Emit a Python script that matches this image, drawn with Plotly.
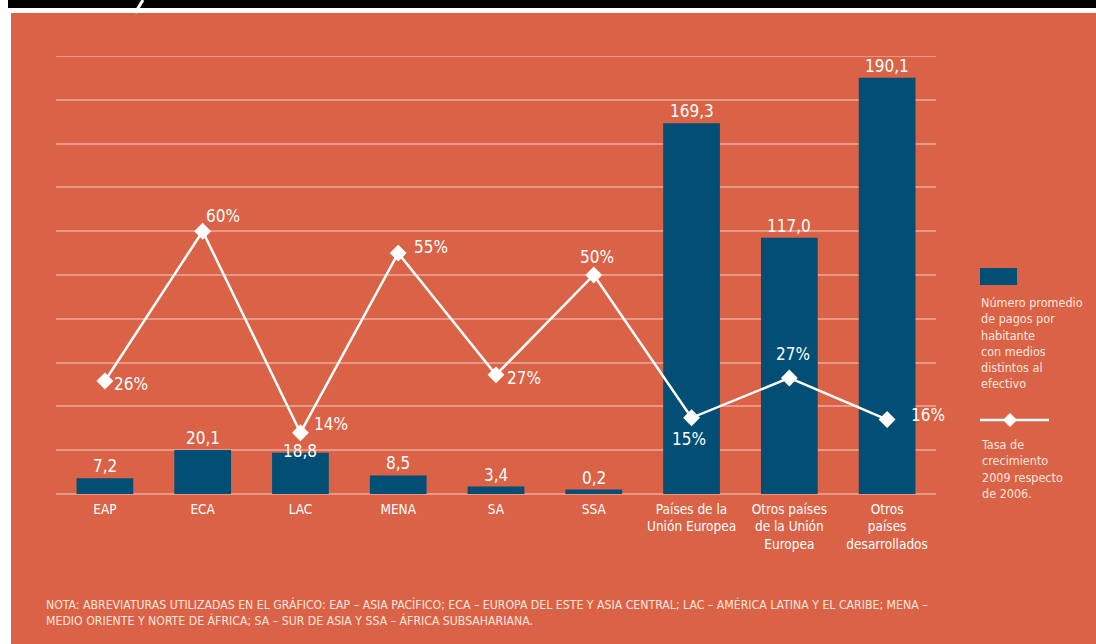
import plotly.graph_objects as go

categories = ["EAP", "ECA", "LAC", "MENA", "SA", "SSA",
              "Países de la<br>Unión Europea",
              "Otros países<br>de la Unión<br>Europea",
              "Otros<br>países<br>desarrollados"]
# bar heights as drawn in the picture (SSA bar is drawn at ~2 although labelled 0,2)
pagos = [7.2, 20.1, 18.8, 8.5, 3.4, 2.0, 169.3, 117.0, 190.1]
pagos_labels = ["7,2", "20,1", "18,8", "8,5", "3,4", "0,2", "169,3", "117,0", "190,1"]
# growth points as drawn in the picture
crecimiento = [25.8, 60, 14, 55, 27.2, 50, 17.4, 26.5, 17.0]
crec_labels = ["26%", "60%", "14%", "55%", "27%", "50%", "15%", "27%", "16%"]

W, H = 1096, 644
L, R, T, B = 56, 160, 56, 150
PW, PH = W - L - R, H - T - B

def px(x):
    return (x - L) / PW

def py(y):
    return (H - B - y) / PH

ORANGE = "#DA6246"
BLUE = "#024E74"
FONT = "'DejaVu Sans Condensed', 'DejaVu Sans', sans-serif"

fig = go.Figure()
fig.add_trace(go.Bar(x=categories, y=pagos, marker_color=BLUE, marker_line_width=0,
                     yaxis="y", hoverinfo="skip", showlegend=False))
fig.add_trace(go.Scatter(x=categories, y=crecimiento, yaxis="y2", mode="lines+markers",
                         line=dict(color="white", width=2.5),
                         marker=dict(symbol="diamond", size=13, color="white"),
                         hoverinfo="skip", showlegend=False))

# bar value labels
bar_shift = [0, 0, -10, 0, 0, 0, 0, 0, 0]
for c, v, t, s in zip(categories, pagos, pagos_labels, bar_shift):
    fig.add_annotation(x=c, y=v, yref="y", text=t, showarrow=False, yanchor="bottom",
                       yshift=0 + s, font=dict(family=FONT, size=17, color="white"))

# percentage labels (offsets relative to the point)
pct_off = [(26, -3), (20, 15), (31, 9), (33, 6), (28, -3), (3, 18), (-3, -21), (4, 24), (41, 5)]
for c, v, t, (dx, dy) in zip(categories, crecimiento, crec_labels, pct_off):
    fig.add_annotation(x=c, y=v, yref="y2", text=t, showarrow=False,
                       xshift=dx, yshift=dy,
                       font=dict(family=FONT, size=17, color="white"))

shapes = []
# white margins / black band
shapes.append(dict(type="rect", xref="paper", yref="paper", x0=px(0), x1=px(11), y0=py(H), y1=py(0),
                   fillcolor="white", line_width=0, layer="below"))
shapes.append(dict(type="rect", xref="paper", yref="paper", x0=px(0), x1=px(W), y0=py(13), y1=py(0),
                   fillcolor="white", line_width=0, layer="below"))
shapes.append(dict(type="rect", xref="paper", yref="paper", x0=px(8), x1=px(W), y0=py(8), y1=py(0),
                   fillcolor="black", line_width=0, layer="below"))
shapes.append(dict(type="line", xref="paper", yref="paper", x0=px(135), x1=px(143), y0=py(13), y1=py(0),
                   line=dict(color="white", width=3)))
# top gridline (range edge)
shapes.append(dict(type="line", xref="paper", yref="y", x0=0, x1=1, y0=200, y1=200,
                   line=dict(color="rgba(255,255,255,0.35)", width=2), layer="below"))
# legend
shapes.append(dict(type="rect", xref="paper", yref="paper", x0=px(980), x1=px(1017), y0=py(285), y1=py(268),
                   fillcolor=BLUE, line_width=0))
shapes.append(dict(type="line", xref="paper", yref="paper", x0=px(980), x1=px(1049), y0=py(420), y1=py(420),
                   line=dict(color="white", width=2.5)))
shapes.append(dict(type="path", xref="paper", yref="paper",
                   path=f"M {px(1010)},{py(413)} L {px(1017)},{py(420)} L {px(1010)},{py(427)} L {px(1003)},{py(420)} Z",
                   fillcolor="white", line_width=0))

fig.add_annotation(xref="paper", yref="paper", x=px(979), y=py(293), xanchor="left", yanchor="top",
                   align="left", showarrow=False,
                   text="Número promedio<br>de pagos por<br>habitante<br>con medios<br>distintos al<br>efectivo",
                   font=dict(family=FONT, size=12.5, color="#FCE6DE"))
fig.add_annotation(xref="paper", yref="paper", x=px(979), y=py(435), xanchor="left", yanchor="top",
                   align="left", showarrow=False,
                   text="Tasa de<br>crecimiento<br>2009 respecto<br>de 2006.",
                   font=dict(family=FONT, size=12.5, color="#FCE6DE"))
fig.add_annotation(xref="paper", yref="paper", x=px(44), y=py(595), xanchor="left", yanchor="top",
                   align="left", showarrow=False,
                   text="NOTA: ABREVIATURAS UTILIZADAS EN EL GRÁFICO: EAP – ASIA PACÍFICO; ECA – EUROPA DEL ESTE Y ASIA CENTRAL; LAC – AMÉRICA LATINA Y EL CARIBE; MENA –<br>MEDIO ORIENTE Y NORTE DE ÁFRICA; SA – SUR DE ASIA Y SSA – ÁFRICA SUBSAHARIANA.",
                   font=dict(family=FONT, size=12.2, color="#FCE6DE"))

fig.update_layout(
    width=W, height=H,
    margin=dict(l=L, r=R, t=T, b=B),
    paper_bgcolor=ORANGE, plot_bgcolor=ORANGE,
    bargap=0.42,
    shapes=shapes,
    showlegend=False,
    xaxis=dict(type="category", range=[-0.5, 8.5], showgrid=False, showline=False, ticks="",
               ticklabelstandoff=5,
               tickfont=dict(family=FONT, size=13.5, color="white"), fixedrange=True),
    yaxis=dict(range=[0, 200], dtick=20, showgrid=True, gridcolor="rgba(255,255,255,0.35)",
               gridwidth=2, zeroline=True, zerolinecolor="rgba(255,255,255,0.35)", zerolinewidth=2,
               showticklabels=False, ticks=""),
    yaxis2=dict(range=[0, 100], overlaying="y", side="right", visible=False, showgrid=False),
)

fig.write_html("out.html", config={"displayModeBar": False},
               post_script="document.body.style.margin='0';document.body.style.overflow='hidden';")
